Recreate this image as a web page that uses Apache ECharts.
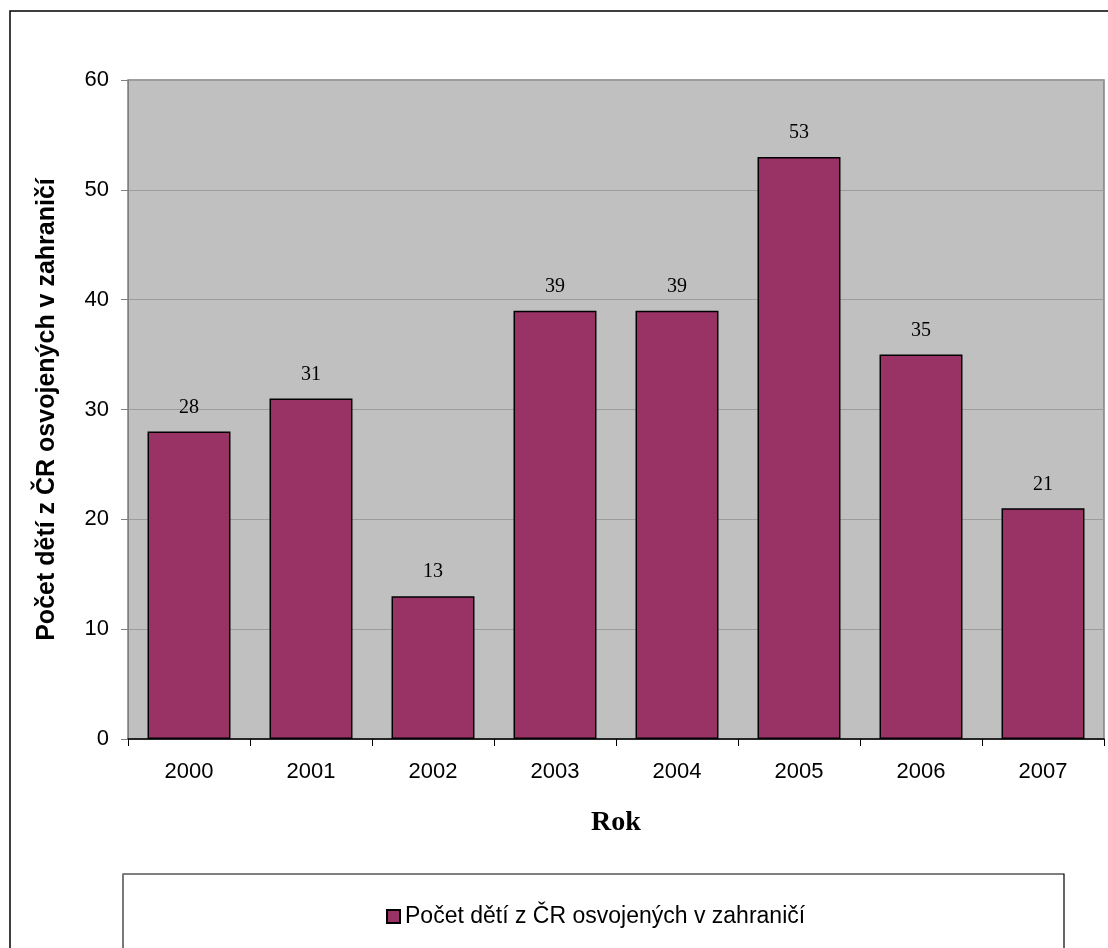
<!DOCTYPE html>
<html>
<head>
<meta charset="utf-8">
<script src="https://cdn.jsdelivr.net/npm/echarts@6/dist/echarts.min.js"></script>
<style>html,body{margin:0;padding:0;background:#fff;}#c{width:1108px;height:948px;}</style>
</head>
<body>
<div id="c"></div>
<script>
const categories = ['2000','2001','2002','2003','2004','2005','2006','2007'];
const values = [28, 31, 13, 39, 39, 53, 35, 21];
const seriesName = 'Počet dětí z ČR osvojených v zahraničí';
const yTicks = {min: 0, max: 60, interval: 10};

const chart = echarts.init(document.getElementById('c'), null, {renderer: 'canvas'});
chart.setOption({
  animation: false,
  backgroundColor: '#ffffff',
  graphic: [
    {type: 'rect', shape: {x: 10, y: 11, width: 1200, height: 1000}, style: {fill: 'none', stroke: '#000', lineWidth: 1.5}, z: -1},
    {type: 'rect', shape: {x: 123, y: 874, width: 941, height: 200}, style: {fill: '#fff', stroke: '#000', lineWidth: 1.2}, z: 0},
    {type: 'line', shape: {x1: 123, y1: 874, x2: 123, y2: 960}, style: {stroke: '#808080', lineWidth: 1.5}, z: 1}
  ],
  grid: {left: 128, top: 80, width: 976, height: 659, show: true, backgroundColor: '#C0C0C0', borderColor: '#808080', borderWidth: 1.5},
  legend: {
    left: 381, top: 900, itemWidth: 13, itemHeight: 13, itemGap: 7, icon: 'rect',
    textStyle: {fontFamily: 'Liberation Sans, Arial', fontSize: 23, color: '#000'},
    data: [seriesName], z: 5
  },
  xAxis: {
    type: 'category', data: categories,
    name: 'Rok', nameLocation: 'middle', nameGap: 70,
    nameTextStyle: {fontFamily: 'Liberation Serif, Times New Roman', fontWeight: 'bold', fontSize: 28, color: '#000'},
    axisLine: {show: true, lineStyle: {color: '#000', width: 1.5}},
    axisTick: {show: true, inside: false, length: 7, lineStyle: {color: '#000'}},
    axisLabel: {fontFamily: 'Liberation Sans, Arial', fontSize: 22, color: '#000', margin: 22}
  },
  yAxis: {
    type: 'value', min: yTicks.min, max: yTicks.max, interval: yTicks.interval,
    name: 'Počet dětí z ČR osvojených v zahraničí', nameLocation: 'middle', nameGap: 68, nameRotate: 90,
    nameTextStyle: {fontFamily: 'Liberation Sans, Arial', fontWeight: 'bold', fontSize: 25, color: '#000'},
    axisLine: {show: true, lineStyle: {color: '#808080', width: 1}},
    axisTick: {show: true, inside: false, length: 7, lineStyle: {color: '#808080'}},
    axisLabel: {fontFamily: 'Liberation Sans, Arial', fontSize: 22, color: '#000', margin: 19},
    splitLine: {show: true, lineStyle: {color: '#9c9c9c', width: 1}}
  },
  series: [{
    name: seriesName, type: 'bar', data: values,
    barCategoryGap: '32%',
    itemStyle: {color: '#993366', borderColor: '#000', borderWidth: 1.5},
    label: {show: true, position: 'top', distance: 14, fontFamily: 'Liberation Serif, Times New Roman', fontSize: 20, color: '#000'}
  }]
});
</script>
</body>
</html>
